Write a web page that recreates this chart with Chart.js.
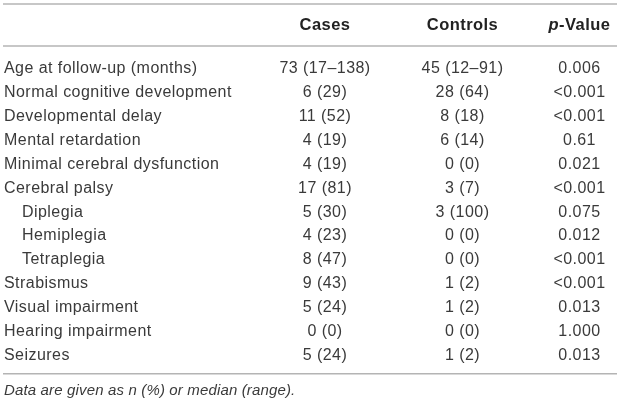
<!DOCTYPE html>
<html>
<head>
<meta charset="utf-8">
<script src="https://cdn.jsdelivr.net/npm/chart.js@4"></script>
<style>
  html, body { margin: 0; padding: 0; background: #fff; }
  #wrap { width: 619px; height: 405px; position: relative; }
</style>
</head>
<body>
<div id="wrap"><canvas id="table"></canvas></div>
<script>
'use strict';
// ---------- Table data ----------
const columnHeaders = ['Cases', 'Controls', 'p-Value'];

const rowLabels = [
    'Age at follow-up (months)',
    'Normal cognitive development',
    'Developmental delay',
    'Mental retardation',
    'Minimal cerebral dysfunction',
    'Cerebral palsy',
    'Diplegia',
    'Hemiplegia',
    'Tetraplegia',
    'Strabismus',
    'Visual impairment',
    'Hearing impairment',
    'Seizures',
];
const subRows = ['Diplegia', 'Hemiplegia', 'Tetraplegia'];

const casesValues = ['73 (17–138)', '6 (29)', '11 (52)', '4 (19)', '4 (19)', '17 (81)',
    '5 (30)', '4 (23)', '8 (47)', '9 (43)', '5 (24)', '0 (0)', '5 (24)'];
const controlsValues = ['45 (12–91)', '28 (64)', '8 (18)', '6 (14)', '0 (0)', '3 (7)',
    '3 (100)', '0 (0)', '0 (0)', '1 (2)', '1 (2)', '0 (0)', '1 (2)'];
const pValues = ['0.006', '<0.001', '<0.001', '0.61', '0.021', '<0.001',
    '0.075', '0.012', '<0.001', '<0.001', '0.013', '1.000', '0.013'];

const footnote = 'Data are given as n (%) or median (range).';

// ---------- Layout (pixels) ----------
const FONT     = '"Liberation Sans", Arial, Helvetica, sans-serif';
const TEXT     = '#3a3a3a';
const RULE     = '#b4b4b4';
const COL_X    = [325, 462.5, 579.5];   // centres of the value columns
const INDENT   = 18;

function drawCentered(ctx, parts, cx, y) {
    // parts: [{text, font}] drawn side by side, centred on cx as a whole
    let total = 0;
    parts.forEach(p => { ctx.font = p.font; p.w = ctx.measureText(p.text).width; total += p.w; });
    let x = cx - total / 2;
    ctx.textAlign = 'left';
    parts.forEach(p => { ctx.font = p.font; ctx.fillText(p.text, x, y); x += p.w; });
}

const tablePlugin = {
    id: 'tableCells',
    afterDraw(chart) {
        const { ctx, chartArea: a, scales: { y } } = chart;
        const capHalf = 5.7;
        ctx.save();
        ctx.textBaseline = 'alphabetic';
        ctx.letterSpacing = '0.45px';

        // rules
        ctx.strokeStyle = RULE;
        ctx.lineWidth = 1.6;
        [4, a.top - 9.5, a.bottom + 7.5].forEach(ly => {
            ctx.beginPath();
            ctx.moveTo(a.left, ly);
            ctx.lineTo(a.right, ly);
            ctx.stroke();
        });

        // header
        ctx.fillStyle = '#222';
        const hy = a.top - 31 + capHalf;
        const bold = 'bold 16.5px ' + FONT;
        drawCentered(ctx, [{ text: columnHeaders[0], font: bold }], COL_X[0], hy);
        drawCentered(ctx, [{ text: columnHeaders[1], font: bold }], COL_X[1], hy);
        drawCentered(ctx, [
            { text: columnHeaders[2].slice(0, 1), font: 'italic bold 16.5px ' + FONT },
            { text: columnHeaders[2].slice(1),   font: bold },
        ], COL_X[2], hy);

        // body rows, positioned by the category scale
        ctx.fillStyle = TEXT;
        ctx.font = '16px ' + FONT;
        rowLabels.forEach((label, i) => {
            const ry = y.getPixelForValue(i) + capHalf;
            ctx.textAlign = 'left';
            ctx.fillText(label, a.left + 1 + (subRows.includes(label) ? INDENT : 0), ry);
            ctx.textAlign = 'center';
            ctx.fillText(casesValues[i],    COL_X[0], ry);
            ctx.fillText(controlsValues[i], COL_X[1], ry);
            ctx.fillText(pValues[i],        COL_X[2], ry);
        });

        // footnote
        ctx.textAlign = 'left';
        ctx.letterSpacing = '0.15px';
        ctx.font = 'italic 15px ' + FONT;
        ctx.fillText(footnote, a.left + 1, a.bottom + 28.5);
        ctx.restore();
    },
};

new Chart(document.getElementById('table'), {
    type: 'bar',
    data: {
        labels: rowLabels,
        datasets: [{ data: rowLabels.map(() => null) }],
    },
    options: {
        indexAxis: 'y',
        responsive: true,
        maintainAspectRatio: false,
        animation: false,
        events: [],
        layout: { padding: { top: 55.5, bottom: 38.8, left: 3, right: 2 } },
        plugins: { legend: { display: false }, tooltip: { enabled: false } },
        scales: {
            x: { display: false, min: 0, max: 1 },
            y: { display: false, offset: true },
        },
    },
    plugins: [tablePlugin],
});
</script>
</body>
</html>
